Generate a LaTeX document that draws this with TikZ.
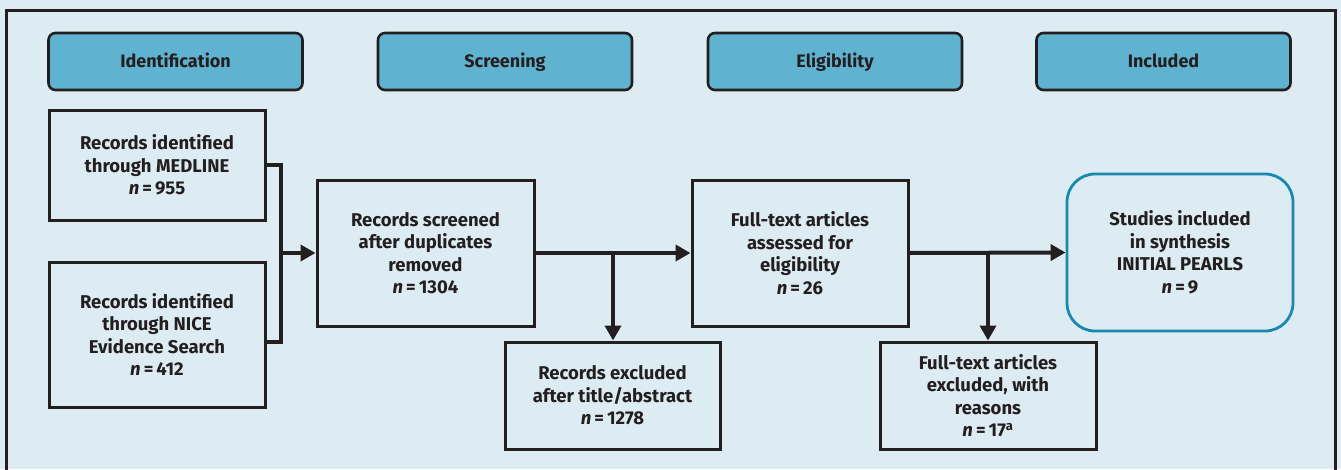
\documentclass[tikz,border=0pt]{standalone}
\usepackage{fontspec}
\setmainfont{Fira Sans}
\usetikzlibrary{arrows.meta,positioning}
\definecolor{bg}{HTML}{DDEBF2}
\definecolor{hdr}{HTML}{5FB3D0}
\definecolor{ink}{HTML}{231F20}
\definecolor{teal}{HTML}{1B88AE}
\tikzset{
  hdrbox/.style={draw=ink, line width=2.6pt, fill=hdr, rounded corners=7pt, minimum width=254pt, minimum height=57pt, text height=13pt, text depth=1pt, font=\fontsize{18}{20}\selectfont\bfseries, text=ink},
  flowbox/.style={draw=ink, line width=3pt, minimum width=216pt, align=center, font=\fontsize{18.5}{22.5}\selectfont\bfseries, text=ink},
  endbox/.style={draw=teal, line width=2.8pt, rounded corners=28pt, minimum width=226pt, minimum height=157pt, align=center, font=\fontsize{18.5}{22.5}\selectfont\bfseries, text=ink},
  conn/.style={draw=ink, line width=4pt},
  arr/.style={conn, -{Triangle[length=15pt,width=16pt]}},
}
\newcommand{\nn}{\textit{n}\,=\,}
\begin{document}
\begin{tikzpicture}[x=1pt,y=-1pt]
\useasboundingbox (0,0) rectangle (1341,469);
\fill[bg] (0,0) rectangle (1341,469);
\clip (0,0) rectangle (1341,469);
\draw[ink, line width=3pt] (6,490) -- (6,10) -- (1335,10) -- (1335,490);
% headers
\node[hdrbox] (h1) at (175.5,61.5) {Identification};
\node[hdrbox] (h2) at (505,61.5) {Screening};
\node[hdrbox] (h3) at (835,61.5) {Eligibility};
\node[hdrbox] (h4) at (1163.5,61.5) {Included};
% boxes
\node[flowbox, minimum height=110pt] (med) at (157,165) {Records identified\\through MEDLINE\\\nn 955};
\node[flowbox, minimum height=145pt] (nice) at (157,334.5) {Records identified\\through NICE\\Evidence Search\\\nn 412};
\node[flowbox, minimum height=146pt, minimum width=217pt] (scr) at (425.5,253) {Records screened\\after duplicates\\removed\\\nn 1304};
\node[flowbox, minimum height=107pt, minimum width=215pt] (exc) at (612.5,395.5) {Records excluded\\after title/abstract\\\nn 1278};
\node[flowbox, minimum height=146pt] (ft) at (800,253) {Full-text articles\\assessed for\\eligibility\\\nn 26};
\node[flowbox, minimum height=107pt] (ftx) at (988,395.5) {Full-text articles\\excluded, with\\reasons\\\nn 17\textsuperscript{a}};
\node[endbox] (inc) at (1180,252.5) {Studies included\\in synthesis\\INITIAL PEARLS\\\nn 9};
% connectors
\coordinate (j1) at (281,253);
\coordinate (j2) at (613,253);
\coordinate (j3) at (988,253);
\draw[conn] (med.east) -| (j1) |- ([yshift=-7.5pt]nice.east);
\draw[arr] (j1) -- (scr.west);
\draw[arr] (scr.east) -- (ft.west);
\draw[arr] (j2) -- (exc.north -| j2);
\draw[arr] (ft.east) -- (inc.west);
\draw[arr] (j3) -- (ftx.north);
\end{tikzpicture}
\end{document}
